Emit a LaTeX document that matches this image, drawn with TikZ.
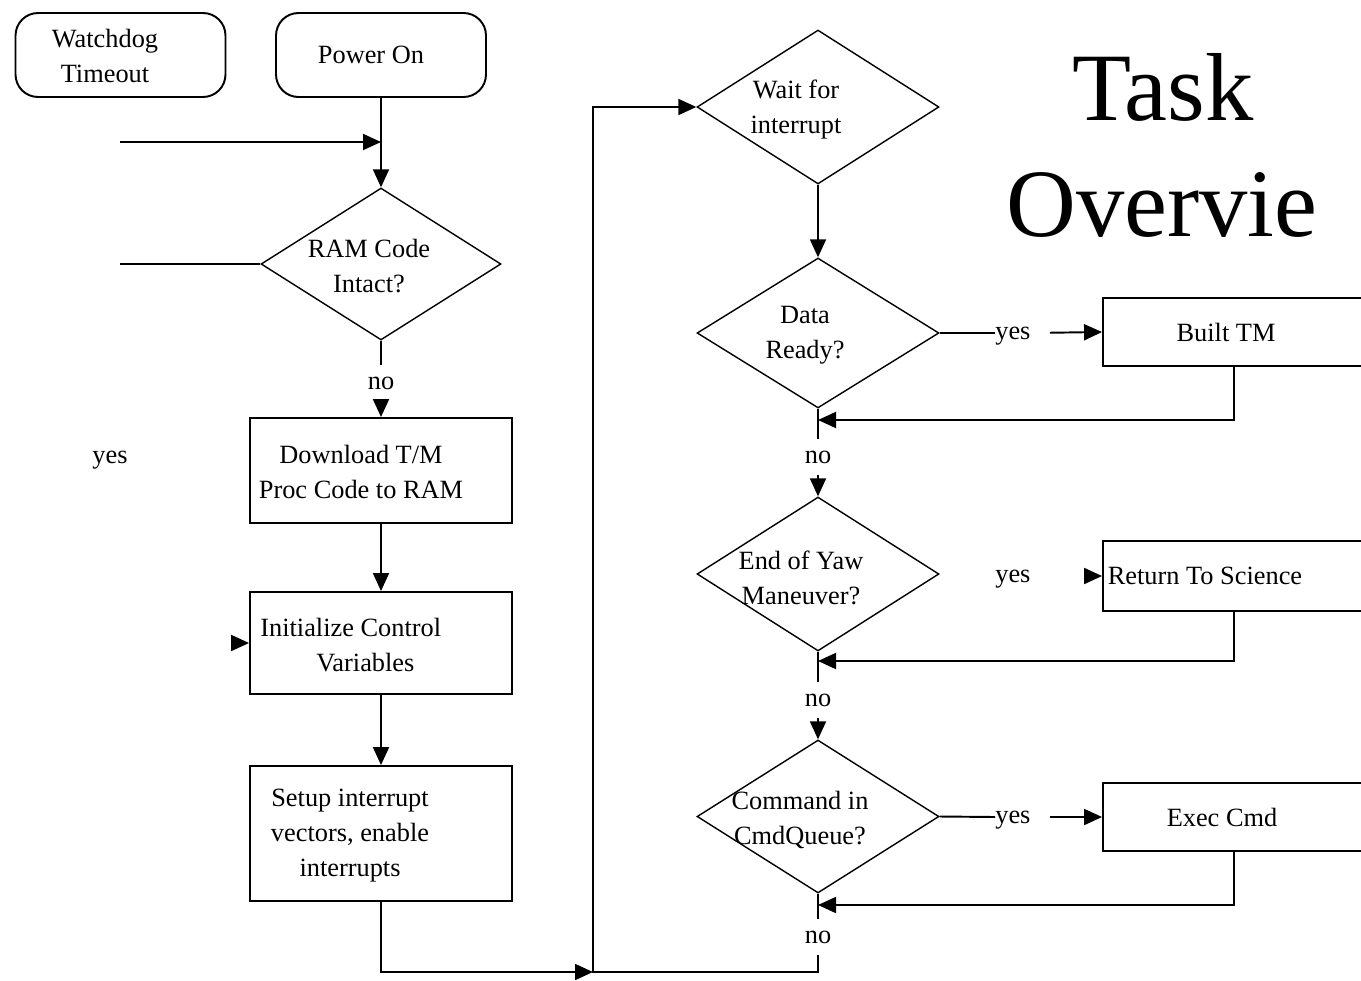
\documentclass[tikz,border=0pt]{standalone}
\usepackage{fontspec}
\setmainfont{Liberation Serif}
\usetikzlibrary{shapes.geometric,arrows.meta,calc}

\begin{document}
\begin{tikzpicture}[x=0.02cm,y=-0.02cm,
  every node/.style={font=\fontsize{15}{19.9}\selectfont},
  line/.style={line width=1.1pt},
  flow/.style={line width=1.1pt, -{Triangle[length=0.36cm,width=0.32cm]}},
  rbox/.style={draw, line width=1.1pt, rounded corners=0.45cm, minimum width=4.2cm, minimum height=1.68cm, inner sep=0},
  pbox/.style={draw, line width=1.1pt, minimum width=5.24cm, inner sep=0},
  dec/.style={draw, diamond, line width=0.8pt, minimum width=4.84cm, minimum height=3.06cm, inner sep=0},
  txt/.style={align=center, inner sep=0},
  lab/.style={inner sep=0, minimum height=0.72cm},
  yeslab/.style={lab, text depth=0pt},
  title/.style={font=\fontsize{55}{60}\selectfont, anchor=base, inner sep=0}
]
\useasboundingbox (0,0) rectangle (1361,980);
\clip (0,0) rectangle (1361,980);

% start events
\node[rbox] (wd) at (120.5,55) {};
\node[txt] (wdT) at (105,56) {Watchdog\\Timeout};
\node[rbox] (pwr) at (381,55) {};
\node[txt] (pwrT) at (371,55) {Power On};

% left column
\node[dec, minimum width=4.8cm, minimum height=3.04cm] (ram) at (381,264) {};
\node[txt] (ramT) at (369,266) {RAM Code\\Intact?};
\node[lab] (noA) at (381,383) {no};
\node[yeslab] (yesA) at (110,457) {yes};

\node[pbox, minimum height=2.1cm] (dl) at (381,470.5) {};
\node[txt] (dlT) at (361,472) {Download T/M\\Proc Code to RAM};

\node[pbox, minimum height=2.04cm] (init) at (381,643) {};
\node[align=left, inner sep=0, anchor=west] (initT) at (260,645) {Initialize Control\\\hspace*{1.12cm}Variables};

\node[pbox, minimum height=2.7cm] (setup) at (381,833.5) {};
\node[txt] (setupT) at (350,836) {Setup interrupt\\vectors, enable\\interrupts};

% right column
\node[dec, minimum height=3.08cm] (wait) at (818,107) {};
\node[txt] (waitT) at (796,110) {Wait for\\interrupt};

\node[dec, minimum height=3.0cm] (data) at (818,333) {};
\node[txt] (dataT) at (805,335) {Data\\Ready?};
\node[lab] (noB) at (818,457) {no};

\node[dec, minimum height=3.08cm] (yaw) at (818,574) {};
\node[txt] (yawT) at (801,578) {End of Yaw\\Maneuver?};
\node[lab] (noC) at (818,700) {no};

\node[dec, minimum height=3.06cm] (cmd) at (818,816.5) {};
\node[txt] (cmdT) at (800,820) {Command in\\CmdQueue?};
\node[lab] (noD) at (818,937) {no};

% action boxes
\node[pbox, minimum height=1.36cm] (built) at (1234,332) {};
\node[txt] (builtT) at (1226,332) {Built TM};
\node[pbox, minimum height=1.4cm] (ret) at (1234,576) {};
\node[txt] (retT) at (1205,576) {Return To Science};
\node[pbox, minimum height=1.36cm] (exec) at (1234,817) {};
\node[txt] (execT) at (1222,817) {Exec Cmd};

\node[yeslab, anchor=west] (yesB) at (995,333) {yes};
\node[yeslab, anchor=west] (yesC) at (995,576) {yes};
\node[yeslab, anchor=west] (yesD) at (995,817) {yes};

% title
\node[title] (t1) at (1163,120) {Task};
\node[title] (t2) at (1162,236) {Overvie};

% connector ends
\coordinate (wdIn) at (120,142);
\coordinate (ramYes) at (120,264);
\coordinate (initIn) at (232,643);
\coordinate (merge) at (593,972);
\coordinate (jB) at (818,420);
\coordinate (jC) at (818,661);
\coordinate (jD) at (818,905);

% left column connectors
\draw[flow] (pwr.south) -- (ram.north);
\draw[flow] (wdIn) -- (wdIn -| pwr.south);
\draw[line] (ramYes) -- (ram.west);
\draw[line] (ram.south) -- (noA.north);
\draw[flow] (noA.south) -- (dl.north);
\draw[flow] (dl.south) -- (init.north);
\draw[flow] (init.south) -- (setup.north);
\draw[flow] (initIn) -- (init.west);
\draw[flow] (setup.south) |- (merge);
\draw[flow] (noD.south) |- (merge) |- (wait.west);

% right column connectors
\draw[flow] (wait.south) -- (data.north);
\draw[line] (data.south) -- (noB.north);
\draw[flow] (noB.south) -- (yaw.north);
\draw[line] (yaw.south) -- (noC.north);
\draw[flow] (noC.south) -- (cmd.north);
\draw[line] (cmd.south) -- (noD.north);

\draw[line] (data.east) -- (yesB.west);
\draw[flow, shorten <=0.38cm] (yesB.east) -- (built.west);
\draw[flow, shorten <=1.1cm] (yesC.east) -- (ret.west);
\draw[line] (cmd.east) -- (yesD.west);
\draw[flow, shorten <=0.38cm] (yesD.east) -- (exec.west);

\draw[flow] (built.south) |- (jB);
\draw[flow] (ret.south) |- (jC);
\draw[flow] (exec.south) |- (jD);
\end{tikzpicture}
\end{document}
